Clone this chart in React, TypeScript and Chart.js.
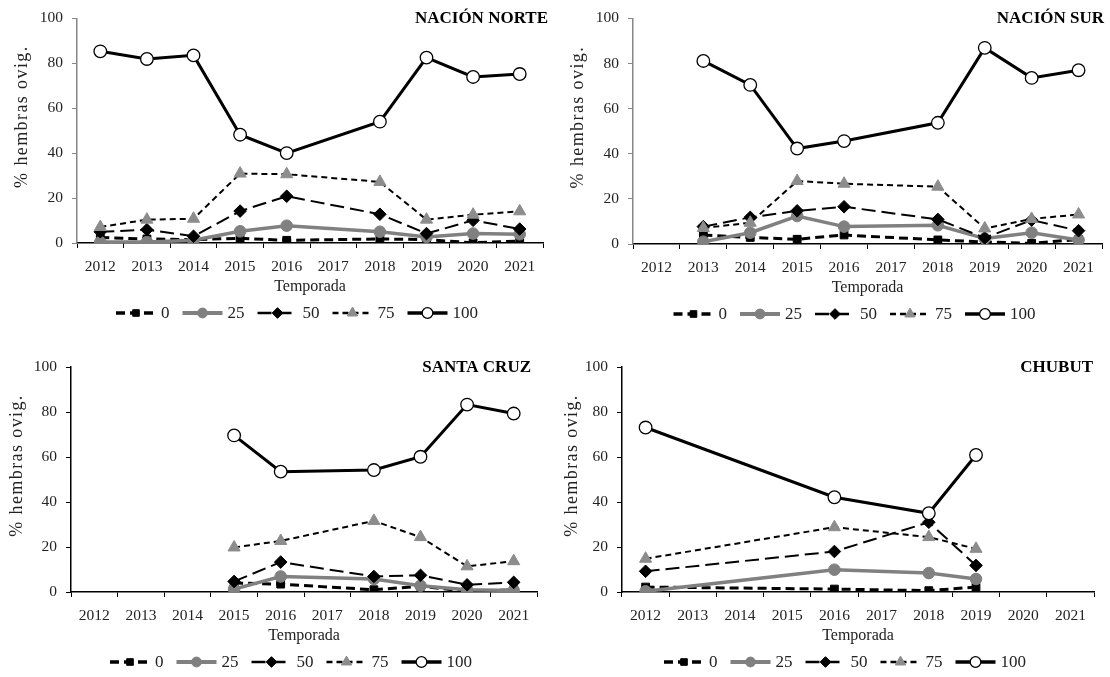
import React, { useEffect, useRef } from "react";
import { Chart, registerables } from "chart.js";

Chart.register(...registerables);

// ---------- DATA ----------
const YEARS = ["2012", "2013", "2014", "2015", "2016", "2017", "2018", "2019", "2020", "2021"];
const SERIES_LABELS = ["0", "25", "50", "75", "100"];
const Y_TICKS = [0, 20, 40, 60, 80, 100];

const NORTE_0 = [2.4, 1.8, 1.5, 2.1, 1.2, null, 1.8, 1.5, 0.1, 0.9];
const NORTE_25 = [0.4, 0.4, 1.2, 5.2, 7.7, null, 5.0, 2.7, 4.2, 3.9];
const NORTE_50 = [5.0, 5.9, 3.0, 14.2, 20.8, null, 12.8, 4.2, 10.1, 6.2];
const NORTE_75 = [7.1, 10.4, 10.8, 30.9, 30.6, null, 27.2, 10.4, 12.6, 14.1];
const NORTE_100 = [85.3, 81.9, 83.5, 48.2, 40.0, null, 54.0, 82.5, 73.9, 75.2];

const SUR_0 = [null, 4.0, 2.9, 2.1, 4.0, null, 1.8, 0.9, 0.3, 2.0];
const SUR_25 = [null, 1.0, 5.0, 12.4, 7.7, null, 8.3, 2.4, 5.0, 1.8];
const SUR_50 = [null, 7.7, 11.8, 14.7, 16.5, null, 10.9, 2.7, 10.6, 5.9];
const SUR_75 = [null, 7.1, 9.4, 27.9, 26.7, null, 25.4, 6.9, 11.1, 13.1];
const SUR_100 = [null, 81.1, 70.5, 42.3, 45.6, null, 53.7, 86.9, 73.6, 77.0];

const SC_0 = [null, null, null, 4.0, 3.5, null, 1.0, 2.5, 0.3, 1.0];
const SC_25 = [null, null, null, 1.3, 6.9, null, 5.8, 2.8, 1.0, 0.7];
const SC_50 = [null, null, null, 4.7, 13.3, null, 6.9, 7.4, 3.2, 4.3];
const SC_75 = [null, null, null, 19.8, 22.7, null, 31.6, 24.4, 11.4, 13.7];
const SC_100 = [null, null, null, 69.6, 53.5, null, 54.2, 60.1, 83.3, 79.3];

const CH_0 = [2.2, null, null, null, 1.3, null, 0.6, 2.2, null, null];
const CH_25 = [0.3, null, null, null, 9.9, null, 8.4, 5.8, null, null];
const CH_50 = [9.2, null, null, null, 18.0, null, 31.0, 11.8, null, null];
const CH_75 = [14.8, null, null, null, 28.8, null, 24.4, 19.2, null, null];
const CH_100 = [73.1, null, null, null, 42.1, null, 35.0, 60.9, null, null];

const TITLES = ["NACIÓN NORTE", "NACIÓN SUR", "SANTA CRUZ", "CHUBUT"];
const X_TITLE = "Temporada";
const Y_TITLE = "% hembras ovig.";

// ---------- STYLES ----------
const FONT = '"Liberation Serif", "Times New Roman", serif';

type SeriesStyle = {
  color: string;
  width: number;
  dash: number[];
  point: string;
  radius: number;
  fill: string;
  pborder: string;
  pbw: number;
};

const STYLES: SeriesStyle[] = [
  { color: "#000", width: 3, dash: [9, 5], point: "rect", radius: 5.5, fill: "#000", pborder: "#000", pbw: 1 },
  { color: "#808080", width: 3.5, dash: [], point: "circle", radius: 5.8, fill: "#808080", pborder: "#808080", pbw: 1 },
  { color: "#000", width: 2, dash: [14, 6], point: "rectRot", radius: 6.3, fill: "#000", pborder: "#000", pbw: 1 },
  { color: "#000", width: 2, dash: [6, 4], point: "triangle", radius: 7, fill: "#8c8c8c", pborder: "#8c8c8c", pbw: 1 },
  { color: "#000", width: 3, dash: [], point: "circle", radius: 6.3, fill: "#fff", pborder: "#000", pbw: 1.3 },
];

type Panel = {
  title: string;
  series: (number | null)[][];
  canvas: { x: number; y: number; w: number; h: number };
  plot: { l: number; t: number; r: number; b: number }; // relative to canvas
  axisColor: string;
  titleRight: number; // relative
  yTitleX: number; // relative
};

const PANELS: Panel[] = [
  {
    title: TITLES[0],
    series: [NORTE_0, NORTE_25, NORTE_50, NORTE_75, NORTE_100],
    canvas: { x: 0, y: 0, w: 555, h: 338 },
    plot: { l: 77, t: 18, r: 543, b: 243 },
    axisColor: "#868686",
    titleRight: 548,
    yTitleX: 22,
  },
  {
    title: TITLES[1],
    series: [SUR_0, SUR_25, SUR_50, SUR_75, SUR_100],
    canvas: { x: 555, y: 0, w: 555, h: 338 },
    plot: { l: 78, t: 18, r: 551, b: 244 },
    axisColor: "#868686",
    titleRight: 549,
    yTitleX: 23,
  },
  {
    title: TITLES[2],
    series: [SC_0, SC_25, SC_50, SC_75, SC_100],
    canvas: { x: 0, y: 345, w: 555, h: 332 },
    plot: { l: 71, t: 22, r: 537, b: 247 },
    axisColor: "#000",
    titleRight: 531,
    yTitleX: 17,
  },
  {
    title: TITLES[3],
    series: [CH_0, CH_25, CH_50, CH_75, CH_100],
    canvas: { x: 555, y: 345, w: 555, h: 332 },
    plot: { l: 67, t: 22, r: 539, b: 247 },
    axisColor: "#000",
    titleRight: 538,
    yTitleX: 17,
  },
];

function drawMarker(ctx: CanvasRenderingContext2D, st: SeriesStyle, x: number, y: number, r: number) {
  ctx.beginPath();
  if (st.point === "rect") {
    const s = r * Math.SQRT1_2;
    ctx.rect(x - s, y - s, 2 * s, 2 * s);
  } else if (st.point === "rectRot") {
    ctx.moveTo(x, y - r);
    ctx.lineTo(x + r, y);
    ctx.lineTo(x, y + r);
    ctx.lineTo(x - r, y);
    ctx.closePath();
  } else if (st.point === "triangle") {
    let a = 0;
    ctx.moveTo(x + Math.sin(a) * r, y - Math.cos(a) * r);
    a += (2 * Math.PI) / 3;
    ctx.lineTo(x + Math.sin(a) * r, y - Math.cos(a) * r);
    a += (2 * Math.PI) / 3;
    ctx.lineTo(x + Math.sin(a) * r, y - Math.cos(a) * r);
    ctx.closePath();
  } else {
    ctx.arc(x, y, r, 0, Math.PI * 2);
  }
  ctx.setLineDash([]);
  ctx.fillStyle = st.fill;
  ctx.fill();
  ctx.lineWidth = st.pbw;
  ctx.strokeStyle = st.pborder;
  ctx.stroke();
}

function decoPlugin(panel: Panel) {
  return {
    id: "deco",
    afterDraw(chart: any) {
      const ctx: any = chart.ctx;
      const ca = chart.chartArea;
      ctx.save();
      // panel title
      ctx.font = `bold 17px ${FONT}`;
      ctx.fillStyle = "#000";
      ctx.textAlign = "right";
      ctx.textBaseline = "alphabetic";
      ctx.fillText(panel.title, panel.titleRight, ca.top + 5);

      // y axis title
      ctx.save();
      ctx.translate(panel.yTitleX, (ca.top + ca.bottom) / 2 - 14);
      ctx.rotate(-Math.PI / 2);
      ctx.font = `18px ${FONT}`;
      try {
        ctx.letterSpacing = "1.4px";
      } catch (e) {}
      ctx.textAlign = "center";
      ctx.textBaseline = "middle";
      ctx.fillStyle = "#222";
      ctx.fillText(Y_TITLE, 0, 0);
      try {
        ctx.letterSpacing = "0px";
      } catch (e) {}
      ctx.restore();

      // legend
      const L = 40;
      const gap = 5;
      const spacing = 13;
      ctx.font = `17px ${FONT}`;
      const widths = SERIES_LABELS.map((s) => ctx.measureText(s).width);
      const total =
        SERIES_LABELS.length * (L + gap) + widths.reduce((a: number, b: number) => a + b, 0) + spacing * (SERIES_LABELS.length - 1);
      let x = (ca.left + ca.right) / 2 - 13 - total / 2;
      const y = ca.bottom + 70;
      SERIES_LABELS.forEach((lab, i) => {
        const st = STYLES[i];
        ctx.beginPath();
        ctx.setLineDash(st.dash);
        ctx.lineDashOffset = 0;
        ctx.lineWidth = st.width + 0.5;
        ctx.strokeStyle = st.color;
        ctx.moveTo(x, y);
        ctx.lineTo(x + L, y);
        ctx.stroke();
        drawMarker(ctx, st, x + L / 2, y, st.radius * 0.85);
        ctx.fillStyle = "#222";
        ctx.textAlign = "left";
        ctx.textBaseline = "middle";
        ctx.fillText(lab, x + L + gap, y + 1);
        x += L + gap + widths[i] + spacing;
      });
      ctx.restore();
    },
  };
}

function PanelChart({ panel }: { panel: Panel }) {
  const ref = useRef<HTMLCanvasElement | null>(null);
  useEffect(() => {
    if (!ref.current) return;
    const { canvas, plot } = panel;
    const xScaleH = 57;
    const chart = new Chart(ref.current, {
      type: "line",
      data: {
        labels: YEARS,
        datasets: SERIES_LABELS.map((lab, i) => {
          const st = STYLES[i];
          return {
            label: lab,
            data: panel.series[i],
            borderColor: st.color,
            borderWidth: st.width,
            borderDash: st.dash,
            pointStyle: st.point as any,
            pointRadius: st.radius,
            pointBackgroundColor: st.fill,
            pointBorderColor: st.pborder,
            pointBorderWidth: st.pbw,
            backgroundColor: st.fill,
            fill: false,
            tension: 0,
            spanGaps: true,
            order: 5 - i,
          };
        }),
      },
      options: {
        animation: false,
        responsive: false,
        maintainAspectRatio: false,
        layout: {
          padding: {
            left: 0,
            top: plot.t,
            right: canvas.w - plot.r,
            bottom: canvas.h - plot.b - xScaleH,
          },
        },
        plugins: {
          legend: { display: false },
          tooltip: { enabled: false },
          title: { display: false },
        },
        scales: {
          x: {
            type: "category",
            offset: true,
            grid: {
              display: true,
              drawOnChartArea: false,
              drawTicks: true,
              tickLength: 5,
              offset: true,
              color: "#000",
              lineWidth: 1,
            },
            border: { display: true, color: "#000", width: 1.5 },
            ticks: {
              font: { family: FONT, size: 15.5 },
              color: "#222",
              padding: 10,
              autoSkip: false,
              maxRotation: 0,
            },
            title: {
              display: true,
              text: X_TITLE,
              font: { family: FONT, size: 16 },
              color: "#222",
              padding: { top: 0, bottom: 4 },
            },
            afterFit: (s: any) => {
              s.height = xScaleH;
            },
          },
          y: {
            min: 0,
            max: 100,
            afterBuildTicks: (s: any) => {
              s.ticks = Y_TICKS.map((v) => ({ value: v }));
            },
            ticks: {
              font: { family: FONT, size: 15.5 },
              color: "#222",
              padding: 9,
            },
            grid: {
              display: true,
              drawOnChartArea: false,
              drawTicks: true,
              tickLength: 5,
              color: panel.axisColor,
              lineWidth: 1,
            },
            border: { display: true, color: panel.axisColor, width: 1.5 },
            afterFit: (s: any) => {
              s.width = plot.l;
            },
          },
        },
      },
      plugins: [decoPlugin(panel)],
    });
    return () => chart.destroy();
  }, [panel]);
  return (
    <canvas
      ref={ref}
      width={panel.canvas.w}
      height={panel.canvas.h}
      style={{
        position: "absolute",
        left: panel.canvas.x,
        top: panel.canvas.y,
        width: panel.canvas.w,
        height: panel.canvas.h,
      }}
    />
  );
}

export default function App() {
  return (
    <div style={{ position: "absolute", left: 0, top: 0, width: 1110, height: 677, background: "#fff" }}>
      {PANELS.map((p, i) => (
        <PanelChart key={i} panel={p} />
      ))}
    </div>
  );
}
